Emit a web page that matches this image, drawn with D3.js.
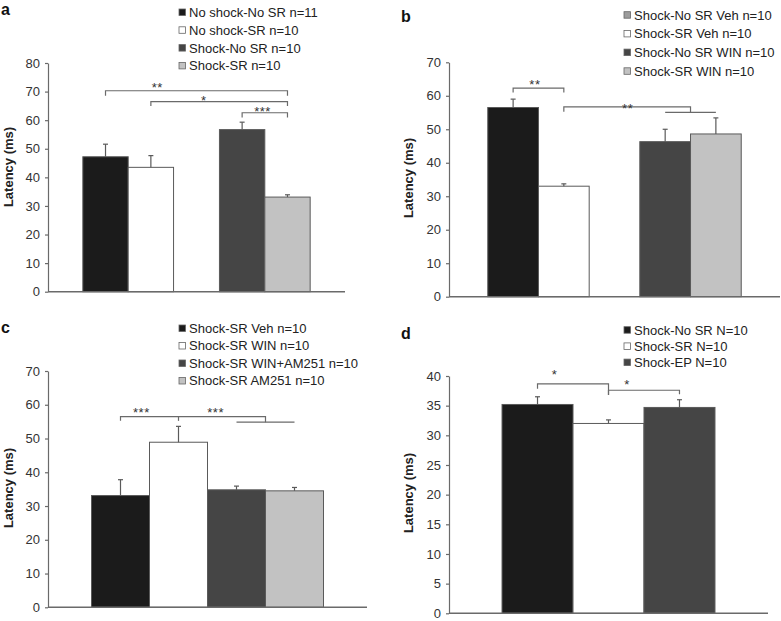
<!DOCTYPE html>
<html>
<head>
<meta charset="utf-8">
<script src="https://cdn.jsdelivr.net/npm/d3@7"></script>
<style>
  body { margin: 0; background: #fff; }
  svg { display: block; font-family: "Liberation Sans", Arial, sans-serif; }
</style>
</head>
<body>
<svg id="chart" width="781" height="621"></svg>
<script>
// Panel a
const legendA = ["No shock-No SR n=11", "No shock-SR n=10", "Shock-No SR n=10", "Shock-SR n=10"];
const meansA = [47.2, 43.5, 56.7, 33.1];
const semA = [4.4, 4.1, 2.6, 0.8];
const ticksA = [0, 10, 20, 30, 40, 50, 60, 70, 80];

// Panel b
const legendB = ["Shock-No SR Veh n=10", "Shock-SR Veh n=10", "Shock-No SR WIN n=10", "Shock-SR WIN n=10"];
const meansB = [56.5, 33.0, 46.3, 48.6];
const semB = [2.5, 0.7, 3.7, 4.8];
const ticksB = [0, 10, 20, 30, 40, 50, 60, 70];

// Panel c
const legendC = ["Shock-SR Veh n=10", "Shock-SR WIN n=10", "Shock-SR WIN+AM251 n=10", "Shock-SR AM251 n=10"];
const meansC = [33.1, 48.9, 34.8, 34.5];
const semC = [4.7, 4.7, 1.1, 1.0];
const ticksC = [0, 10, 20, 30, 40, 50, 60, 70];

// Panel d
const legendD = ["Shock-No SR N=10", "Shock-SR N=10", "Shock-EP N=10"];
const meansD = [35.2, 32.0, 34.7];
const semD = [1.3, 0.6, 1.3];
const ticksD = [0, 5, 10, 15, 20, 25, 30, 35, 40];

// significance marks: bar indices (fractional = between centres), heights in ms
const sigA = [
  { x1: 0, x2: 3, y: 70.3, d1: 5, d2: 5 },
  { x1: 1, x2: 3, y: 66.5, d1: 4.5, d2: 4.5 },
  { x1: 2, x2: 3, y: 62.6, d1: 4.7, d2: 4.7 }
];
const starsA = [{ x: 1.07, y: 72.5, t: "**" }, { x: 1.58, y: 68.0, t: "*" }, { x: 2.45, y: 64.1, t: "***" }];
const sigB = [
  { x1: 0, x2: 1, y: 62.3, d1: 4.3, d2: 4.3 },
  { x1: 1, x2: 2.5, y: 56.7, d1: 5, d2: 5.6, sub: [2, 3] }
];
const starsB = [{ x: 0.43, y: 64.1, t: "**" }, { x: 1.63, y: 57.2, t: "**" }];
const sigC = [
  { x1: 0, x2: 2.5, y: 56.5, d1: 4.3, d2: 5.6, ticks: [1], sub: [2, 3] }
];
const starsC = [{ x: 0.36, y: 58.6, t: "***" }, { x: 1.64, y: 58.6, t: "***" }];
const sigD = [
  { x1: 0, x2: 1, y: 38.66, d1: 4.7, d2: 11 },
  { x1: 1, x2: 2, y: 37.6, d1: 4.7, d2: 4 }
];
const starsD = [{ x: 0.24, y: 40.72, t: "*" }, { x: 1.26, y: 39.04, t: "*" }];

const BLACK = "#1b1b1b", WHITE = "#ffffff", DARK = "#454545", LIGHT = "#c2c2c2";

const panels = [
  { letter: "a", lx: 1, ly: 15, legend: legendA, means: meansA, sem: semA, ticks: ticksA,
    colors: [BLACK, WHITE, DARK, LIGHT], legendColors: [BLACK, WHITE, DARK, LIGHT],
    groups: [[0, 1], [2, 3]], xr: [48, 345], padIn: 0.336, padOut: 0.255,
    yd: 80, yr: [291.7, 63], legX: 179, legY: 12.3, legStep: 17.8, labX: 12.5, labY: 167,
    sig: sigA, stars: starsA },
  { letter: "b", lx: 401, ly: 21.7, legend: legendB, means: meansB, sem: semB, ticks: ticksB,
    colors: [BLACK, WHITE, DARK, LIGHT], legendColors: ["#9c9c9c", WHITE, DARK, LIGHT],
    groups: [[0, 1], [2, 3]], xr: [449, 780], padIn: 0.333, padOut: 0.255,
    yd: 70, yr: [296.7, 62.3], legX: 624, legY: 15, legStep: 18.7, labX: 412.5, labY: 178,
    sig: sigB, stars: starsB },
  { letter: "c", lx: 1, ly: 333, legend: legendC, means: meansC, sem: semC, ticks: ticksC,
    colors: [BLACK, WHITE, DARK, LIGHT], legendColors: [BLACK, WHITE, DARK, LIGHT],
    groups: [[0, 1, 2, 3]], xr: [48, 367], padIn: 0, padOut: 0.1875,
    yd: 70, yr: [607.3, 371], legX: 179, legY: 328.3, legStep: 17.5, labX: 12.5, labY: 488,
    sig: sigC, stars: starsC },
  { letter: "d", lx: 401, ly: 339, legend: legendD, means: meansD, sem: semD, ticks: ticksD,
    colors: [BLACK, WHITE, DARK], legendColors: [BLACK, WHITE, DARK],
    groups: [[0, 1, 2]], xr: [449, 768], padIn: 0, padOut: 0.249,
    yd: 40, yr: [613.3, 376], legX: 624, legY: 330, legStep: 16.2, labX: 412.5, labY: 493,
    sig: sigD, stars: starsD }
];

const svg = d3.select("#chart");
const AXIS = "#6a6a6a", TEXT = "#333";

panels.forEach((p) => {
  const g = svg.append("g");

  // scales
  const xg = d3.scaleBand()
    .domain(d3.range(p.groups.length))
    .range(p.xr)
    .paddingInner(p.padIn)
    .paddingOuter(p.padOut);
  const y = d3.scaleLinear().domain([0, p.yd]).range(p.yr);

  const bars = [];
  p.groups.forEach((grp, gi) => {
    const xi = d3.scaleBand().domain(grp).range([xg(gi), xg(gi) + xg.bandwidth()]);
    grp.forEach((i) => bars.push({ i, x: xi(i), w: xi.bandwidth(), v: p.means[i], e: p.sem[i], c: p.colors[i] }));
  });
  const centre = (f) => {
    const a = bars[Math.floor(f)], b = bars[Math.ceil(f)];
    const ca = a.x + a.w / 2, cb = b.x + b.w / 2;
    return ca + (cb - ca) * (f - Math.floor(f));
  };

  // panel letter
  g.append("text").attr("x", p.lx).attr("y", p.ly)
    .attr("font-size", 16).attr("font-weight", "bold").attr("fill", "#111").text(p.letter);

  // legend
  const leg = g.append("g").selectAll("g").data(p.legend).join("g")
    .attr("transform", (d, i) => `translate(${p.legX},${p.legY + i * p.legStep})`);
  leg.append("rect").attr("x", 0).attr("y", -3.3).attr("width", 6.5).attr("height", 6.5)
    .attr("fill", (d, i) => p.legendColors[i]).attr("stroke", "#666").attr("stroke-width", 0.8);
  leg.append("text").attr("x", 10).attr("y", 4.6).attr("font-size", 13).attr("fill", "#222").text((d) => d);

  // bars
  g.append("g").selectAll("rect").data(bars).join("rect")
    .attr("x", (d) => d.x).attr("y", (d) => y(d.v))
    .attr("width", (d) => d.w).attr("height", (d) => y(0) - y(d.v))
    .attr("fill", (d) => d.c).attr("stroke", "#5a5a5a").attr("stroke-width", 1);

  // error bars (upper only)
  const eb = g.append("g").attr("stroke", "#5a5a5a").attr("stroke-width", 1.2);
  eb.selectAll("line.v").data(bars).join("line").attr("class", "v")
    .attr("x1", (d) => d.x + d.w / 2).attr("x2", (d) => d.x + d.w / 2)
    .attr("y1", (d) => y(d.v)).attr("y2", (d) => y(d.v + d.e));
  eb.selectAll("line.c").data(bars).join("line").attr("class", "c")
    .attr("x1", (d) => d.x + d.w / 2 - 2.5).attr("x2", (d) => d.x + d.w / 2 + 2.5)
    .attr("y1", (d) => y(d.v + d.e)).attr("y2", (d) => y(d.v + d.e));

  // axes
  const yAxis = g.append("g").attr("transform", `translate(${p.xr[0]},0)`)
    .call(d3.axisLeft(y).tickValues(p.ticks).tickSize(3).tickPadding(5).tickSizeOuter(0));
  yAxis.select(".domain").attr("stroke", AXIS).attr("stroke-width", 1.2);
  yAxis.selectAll(".tick line").attr("stroke", AXIS).attr("stroke-width", 1.2);
  yAxis.selectAll(".tick text").attr("font-size", 13).attr("fill", TEXT)
    .attr("font-family", "Liberation Sans, Arial, sans-serif");

  g.append("line").attr("x1", p.xr[0]).attr("x2", p.xr[1])
    .attr("y1", y(0)).attr("y2", y(0)).attr("stroke", AXIS).attr("stroke-width", 1.4);

  // y label
  g.append("text")
    .attr("transform", `translate(${p.labX},${p.labY}) rotate(-90)`)
    .attr("text-anchor", "middle").attr("font-size", 13).attr("font-weight", "bold")
    .attr("fill", "#222").text("Latency (ms)");

  // significance brackets
  const sg = g.append("g").attr("stroke", AXIS).attr("stroke-width", 1.2).attr("fill", "none");
  p.sig.forEach((s) => {
    const x1 = centre(s.x1), x2 = centre(s.x2), yy = y(s.y);
    sg.append("path").attr("d", `M${x1},${yy + s.d1}V${yy}H${x2}V${yy + s.d2}`);
    (s.ticks || []).forEach((t) => {
      sg.append("path").attr("d", `M${centre(t)},${yy}V${yy + s.d1}`);
    });
    if (s.sub) {
      sg.append("path").attr("d", `M${centre(s.sub[0])},${yy + s.d2}H${centre(s.sub[1])}`);
    }
  });
  g.append("g").selectAll("text").data(p.stars).join("text")
    .attr("x", (d) => centre(d.x)).attr("y", (d) => y(d.y) + 7.4)
    .attr("text-anchor", "middle").attr("font-size", 13).attr("fill", "#333")
    .attr("letter-spacing", 0.5).text((d) => d.t);
});
</script>
</body>
</html>
